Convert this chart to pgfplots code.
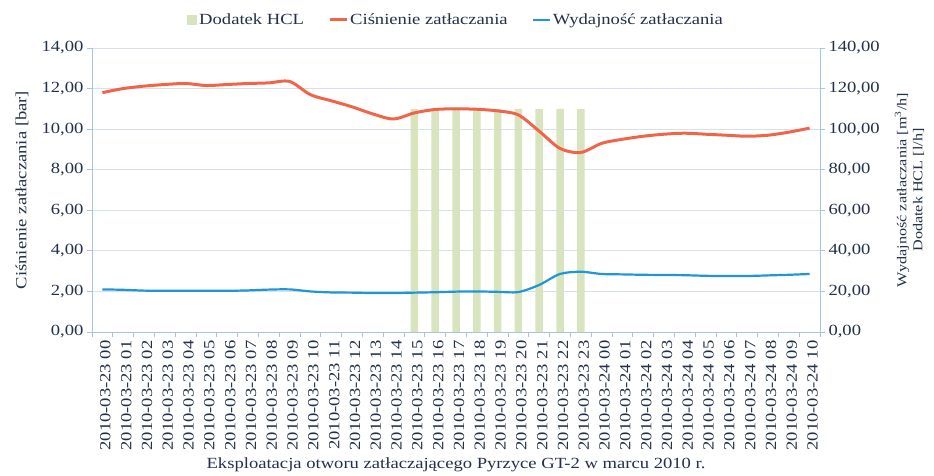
\documentclass[border=0pt]{standalone}
\usepackage{pgfplots}
\pgfplotsset{compat=1.18}
\usepackage{pgfplotstable}
\usepackage{fontspec}
\setmainfont[FakeStretch=1.2]{Liberation Serif}
\definecolor{txt}{HTML}{22304A}
\definecolor{hcl}{HTML}{D7E4BD}
\definecolor{pres}{HTML}{F0654A}
\definecolor{flow}{HTML}{1E96D8}
\definecolor{axc}{HTML}{A9C4E0}
\definecolor{gridc}{HTML}{D5E0EC}

\pgfplotstableread{
x p q
0 11.80 21.0
1 12.00 20.8
2 12.12 20.4
3 12.20 20.3
4 12.25 20.3
5 12.15 20.3
6 12.20 20.3
7 12.25 20.5
8 12.28 20.9
9 12.35 21.0
10 11.70 20.0
11 11.40 19.5
12 11.10 19.4
13 10.75 19.2
14 10.50 19.2
15 10.80 19.4
16 10.97 19.6
17 11.00 19.9
18 10.98 20.0
19 10.90 19.8
20 10.70 19.7
21 9.90 23.2
22 9.05 28.6
23 8.85 29.7
24 9.30 28.6
25 9.50 28.4
26 9.65 28.2
27 9.75 28.1
28 9.80 28.0
29 9.75 27.7
30 9.70 27.6
31 9.65 27.6
32 9.70 27.9
33 9.85 28.2
34 10.05 28.6
}\data

\pgfplotstableread{
x h
15 110
16 110
17 110
18 110
19 110
20 110
21 110
22 110
23 110
}\hcldata

\pgfplotsset{
  base/.style={
    scale only axis, width=728pt, height=284pt,
    xmin=-0.5, xmax=34.5,
    axis line style={axc, line width=0.8pt},
    tick style={axc, line width=0.8pt},
    tick align=outside,
    major tick length=5pt,
    /pgf/number format/.cd, fixed, fixed zerofill, precision=2, use comma, assume math mode=true,
    /pgfplots/.cd,
    tick label style={font=\fontsize{15.5}{17}\selectfont, text=txt},
    label style={font=\fontsize{15.5}{17}\selectfont, text=txt},
  }
}

\begin{document}
\begin{tikzpicture}
\begin{axis}[base, name=ax,
  axis y line*=right, axis x line*=bottom,
  ymin=0, ymax=140, ytick={0,20,...,140},
  ymajorgrids, grid style={gridc, line width=0.8pt},
  xtick={0,...,34},
  major x tick style={draw=none},
  minor xtick={-0.5,0.5,...,34.5},
  minor x tick style={axc, line width=0.8pt},
  minor tick length=5pt,
  xticklabels={2010-03-23 00,2010-03-23 01,2010-03-23 02,2010-03-23 03,2010-03-23 04,2010-03-23 05,2010-03-23 06,2010-03-23 07,2010-03-23 08,2010-03-23 09,2010-03-23 10,2010-03-23 11,2010-03-23 12,2010-03-23 13,2010-03-23 14,2010-03-23 15,2010-03-23 16,2010-03-23 17,2010-03-23 18,2010-03-23 19,2010-03-23 20,2010-03-23 21,2010-03-23 22,2010-03-23 23,2010-03-24 00,2010-03-24 01,2010-03-24 02,2010-03-24 03,2010-03-24 04,2010-03-24 05,2010-03-24 06,2010-03-24 07,2010-03-24 08,2010-03-24 09,2010-03-24 10},
  xticklabel style={rotate=90, anchor=east, font=\fontsize{15.5}{16}\selectfont, yshift=-3pt},
  ylabel={Wydajność zatłaczania [m\textsuperscript{3}/h]\\Dodatek HCL [l/h]},
  ylabel style={align=center, at={(axis description cs:1.123,0.5)}, anchor=center, rotate=0,
    font=\fontsize{13.5}{16}\selectfont},
  xlabel={Eksploatacja otworu zatłaczającego Pyrzyce GT-2 w marcu 2010 r.},
  xlabel style={at={(axis description cs:0.5,-0.468)}, anchor=center},
  legend columns=3,
  legend style={at={(axis description cs:0.5,1.0986)}, anchor=center, draw=none, fill=none,
    font=\fontsize{15.5}{17}\selectfont, text=txt,
    /tikz/every even column/.append style={column sep=22pt}},
  legend cell align=left,
]
\addplot[ybar, bar width=7.5pt, fill=hcl, draw=none,
  legend image code/.code={\fill[hcl] (0pt,-5pt) rectangle (10pt,5pt);}]
  table[x=x, y=h] {\hcldata};
\addlegendentry{Dodatek HCL}
\addlegendimage{pres, line width=3pt}
\addlegendentry{Ciśnienie zatłaczania}
\addplot[flow, line width=2.2pt, smooth, mark=none] table[x=x, y=q] {\data};
\addlegendentry{Wydajność zatłaczania}
\end{axis}
\begin{axis}[base,
  axis y line*=left, axis x line=none,
  ymin=0, ymax=14, ytick={0,2,...,14},
  ylabel={Ciśnienie zatłaczania [bar]},
  ylabel style={at={(axis description cs:-0.0962,0.5)}, anchor=center},
]
\addplot[pres, line width=3pt, smooth, mark=none] table[x=x, y=p] {\data};
\end{axis}
\pgfresetboundingbox
\path (ax.south west) ++(-92pt,-144pt) rectangle ++(934pt,476pt);
\end{tikzpicture}
\end{document}
